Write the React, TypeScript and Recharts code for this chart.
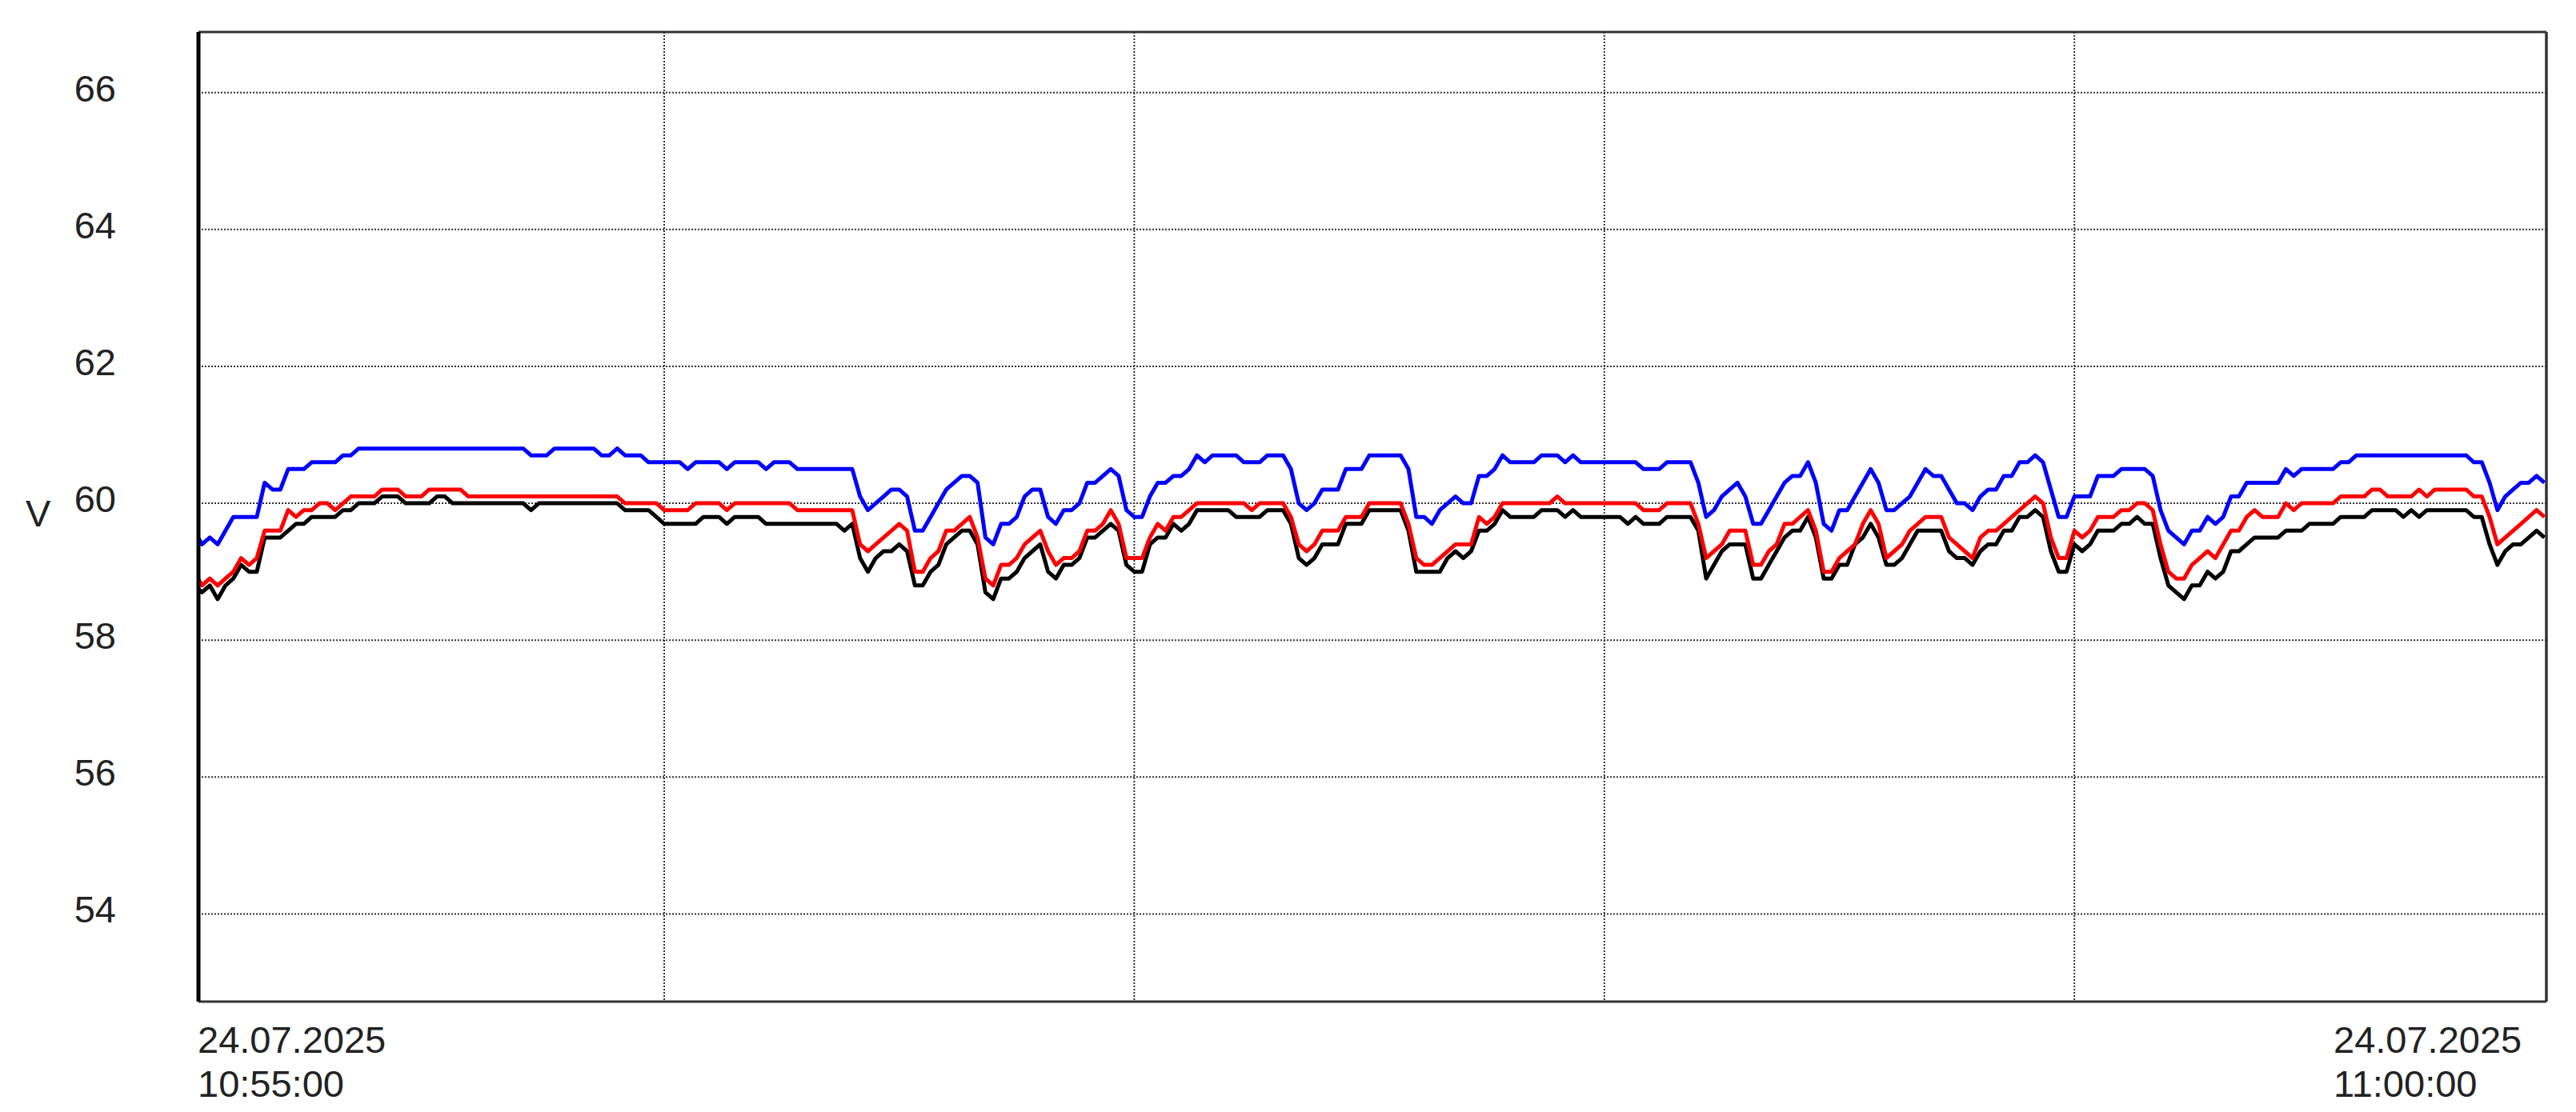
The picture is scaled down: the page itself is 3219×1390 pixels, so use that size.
import React from 'react';
import { LineChart, Line, XAxis, YAxis, CartesianGrid, ReferenceLine } from 'recharts';

// time in seconds after 24.07.2025 10:55:00, voltage in V
const blueSeries: [number, number][] = [
  [0,59.6],[1,59.4],[2,59.5],[3,59.4],[4,59.6],[5,59.8],[8,59.8],[9,60.3],[10,60.2],[11,60.2],[12,60.5],[14,60.5],[15,60.6],[18,60.6],[19,60.7],[20,60.7],[21,60.8],[42,60.8],[43,60.7],[45,60.7],[46,60.8],[51,60.8],[52,60.7],[53,60.7],[54,60.8],[55,60.7],[57,60.7],[58,60.6],[62,60.6],[63,60.5],[64,60.6],[67,60.6],[68,60.5],[69,60.6],[72,60.6],[73,60.5],[74,60.6],[76,60.6],[77,60.5],[84,60.5],[85,60.1],[86,59.9],[87,60.0],[88,60.1],[89,60.2],[90,60.2],[91,60.1],[92,59.6],[93,59.6],[94,59.8],[95,60.0],[96,60.2],[97,60.3],[98,60.4],[99,60.4],[100,60.3],[101,59.5],[102,59.4],[103,59.7],[104,59.7],[105,59.8],[106,60.1],[107,60.2],[108,60.2],[109,59.8],[110,59.7],[111,59.9],[112,59.9],[113,60.0],[114,60.3],[115,60.3],[116,60.4],[117,60.5],[118,60.4],[119,59.9],[120,59.8],[121,59.8],[122,60.1],[123,60.3],[124,60.3],[125,60.4],[126,60.4],[127,60.5],[128,60.7],[129,60.6],[130,60.7],[133,60.7],[134,60.6],[136,60.6],[137,60.7],[139,60.7],[140,60.5],[141,60.0],[142,59.9],[143,60.0],[144,60.2],[146,60.2],[147,60.5],[149,60.5],[150,60.7],[154,60.7],[155,60.5],[156,59.8],[157,59.8],[158,59.7],[159,59.9],[160,60.0],[161,60.1],[162,60.0],[163,60.0],[164,60.4],[165,60.4],[166,60.5],[167,60.7],[168,60.6],[171,60.6],[172,60.7],[174,60.7],[175,60.6],[176,60.7],[177,60.6],[184,60.6],[185,60.5],[187,60.5],[188,60.6],[191,60.6],[192,60.3],[193,59.8],[194,59.9],[195,60.1],[196,60.2],[197,60.3],[198,60.1],[199,59.7],[200,59.7],[201,59.9],[202,60.1],[203,60.3],[204,60.4],[205,60.4],[206,60.6],[207,60.3],[208,59.7],[209,59.6],[210,59.9],[211,59.9],[212,60.1],[213,60.3],[214,60.5],[215,60.3],[216,59.9],[217,59.9],[218,60.0],[219,60.1],[220,60.3],[221,60.5],[222,60.4],[223,60.4],[224,60.2],[225,60.0],[226,60.0],[227,59.9],[228,60.1],[229,60.2],[230,60.2],[231,60.4],[232,60.4],[233,60.6],[234,60.6],[235,60.7],[236,60.6],[237,60.2],[238,59.8],[239,59.8],[240,60.1],[242,60.1],[243,60.4],[245,60.4],[246,60.5],[249,60.5],[250,60.4],[251,59.9],[252,59.6],[253,59.5],[254,59.4],[255,59.6],[256,59.6],[257,59.8],[258,59.7],[259,59.8],[260,60.1],[261,60.1],[262,60.3],[266,60.3],[267,60.5],[268,60.4],[269,60.5],[273,60.5],[274,60.6],[275,60.6],[276,60.7],[290,60.7],[291,60.6],[292,60.6],[293,60.3],[294,59.9],[295,60.1],[296,60.2],[297,60.3],[298,60.3],[299,60.4],[300,60.3],
];

const redSeries: [number, number][] = [
  [0,59.0],[1,58.8],[2,58.9],[3,58.8],[4,58.9],[5,59.0],[6,59.2],[7,59.1],[8,59.2],[9,59.6],[11,59.6],[12,59.9],[13,59.8],[14,59.9],[15,59.9],[16,60.0],[17,60.0],[18,59.9],[19,60.0],[20,60.1],[23,60.1],[24,60.2],[26,60.2],[27,60.1],[29,60.1],[30,60.2],[34,60.2],[35,60.1],[54,60.1],[55,60.0],[59,60.0],[60,59.9],[63,59.9],[64,60.0],[67,60.0],[68,59.9],[69,60.0],[76,60.0],[77,59.9],[84,59.9],[85,59.4],[86,59.3],[87,59.4],[88,59.5],[89,59.6],[90,59.7],[91,59.6],[92,59.0],[93,59.0],[94,59.2],[95,59.3],[96,59.6],[97,59.6],[98,59.7],[99,59.8],[100,59.5],[101,58.9],[102,58.8],[103,59.1],[104,59.1],[105,59.2],[106,59.4],[107,59.5],[108,59.6],[109,59.3],[110,59.1],[111,59.2],[112,59.2],[113,59.3],[114,59.6],[115,59.6],[116,59.7],[117,59.9],[118,59.7],[119,59.2],[121,59.2],[122,59.5],[123,59.7],[124,59.6],[125,59.8],[126,59.8],[127,59.9],[128,60.0],[134,60.0],[135,59.9],[136,60.0],[139,60.0],[140,59.8],[141,59.4],[142,59.3],[143,59.4],[144,59.6],[146,59.6],[147,59.8],[149,59.8],[150,60.0],[154,60.0],[155,59.7],[156,59.2],[157,59.1],[158,59.1],[159,59.2],[160,59.3],[161,59.4],[163,59.4],[164,59.8],[165,59.7],[166,59.8],[167,60.0],[173,60.0],[174,60.1],[175,60.0],[184,60.0],[185,59.9],[187,59.9],[188,60.0],[191,60.0],[192,59.7],[193,59.2],[194,59.3],[195,59.4],[196,59.6],[198,59.6],[199,59.1],[200,59.1],[201,59.3],[202,59.4],[203,59.7],[204,59.7],[205,59.8],[206,59.9],[207,59.6],[208,59.0],[209,59.0],[210,59.2],[211,59.3],[212,59.4],[213,59.7],[214,59.9],[215,59.7],[216,59.2],[217,59.3],[218,59.4],[219,59.6],[220,59.7],[221,59.8],[223,59.8],[224,59.5],[225,59.4],[226,59.3],[227,59.2],[228,59.5],[229,59.6],[230,59.6],[231,59.7],[232,59.8],[233,59.9],[234,60.0],[235,60.1],[236,60.0],[237,59.5],[238,59.2],[239,59.2],[240,59.6],[241,59.5],[242,59.6],[243,59.8],[245,59.8],[246,59.9],[247,59.9],[248,60.0],[249,60.0],[250,59.9],[251,59.4],[252,59.0],[253,58.9],[254,58.9],[255,59.1],[256,59.2],[257,59.3],[258,59.2],[259,59.4],[260,59.6],[261,59.6],[262,59.8],[263,59.9],[264,59.8],[266,59.8],[267,60.0],[268,59.9],[269,60.0],[273,60.0],[274,60.1],[277,60.1],[278,60.2],[279,60.2],[280,60.1],[283,60.1],[284,60.2],[285,60.1],[286,60.2],[290,60.2],[291,60.1],[292,60.1],[293,59.8],[294,59.4],[295,59.5],[296,59.6],[297,59.7],[298,59.8],[299,59.9],[300,59.8],
];

const blackSeries: [number, number][] = [
  [0,58.8],[1,58.7],[2,58.8],[3,58.6],[4,58.8],[5,58.9],[6,59.1],[7,59.0],[8,59.0],[9,59.5],[11,59.5],[12,59.6],[13,59.7],[14,59.7],[15,59.8],[18,59.8],[19,59.9],[20,59.9],[21,60.0],[23,60.0],[24,60.1],[26,60.1],[27,60.0],[30,60.0],[31,60.1],[32,60.1],[33,60.0],[42,60.0],[43,59.9],[44,60.0],[54,60.0],[55,59.9],[58,59.9],[59,59.8],[60,59.7],[64,59.7],[65,59.8],[67,59.8],[68,59.7],[69,59.8],[72,59.8],[73,59.7],[82,59.7],[83,59.6],[84,59.7],[85,59.2],[86,59.0],[87,59.2],[88,59.3],[89,59.3],[90,59.4],[91,59.3],[92,58.8],[93,58.8],[94,59.0],[95,59.1],[96,59.4],[97,59.5],[98,59.6],[99,59.6],[100,59.4],[101,58.7],[102,58.6],[103,58.9],[104,58.9],[105,59.0],[106,59.2],[107,59.3],[108,59.4],[109,59.0],[110,58.9],[111,59.1],[112,59.1],[113,59.2],[114,59.5],[115,59.5],[116,59.6],[117,59.7],[118,59.6],[119,59.1],[120,59.0],[121,59.0],[122,59.4],[123,59.5],[124,59.5],[125,59.7],[126,59.6],[127,59.7],[128,59.9],[132,59.9],[133,59.8],[136,59.8],[137,59.9],[139,59.9],[140,59.7],[141,59.2],[142,59.1],[143,59.2],[144,59.4],[146,59.4],[147,59.7],[149,59.7],[150,59.9],[154,59.9],[155,59.6],[156,59.0],[159,59.0],[160,59.2],[161,59.3],[162,59.2],[163,59.3],[164,59.6],[165,59.6],[166,59.7],[167,59.9],[168,59.8],[171,59.8],[172,59.9],[174,59.9],[175,59.8],[176,59.9],[177,59.8],[182,59.8],[183,59.7],[184,59.8],[185,59.7],[187,59.7],[188,59.8],[191,59.8],[192,59.6],[193,58.9],[194,59.1],[195,59.3],[196,59.4],[198,59.4],[199,58.9],[200,58.9],[201,59.1],[202,59.3],[203,59.5],[204,59.6],[205,59.6],[206,59.8],[207,59.5],[208,58.9],[209,58.9],[210,59.1],[211,59.1],[212,59.4],[213,59.5],[214,59.7],[215,59.5],[216,59.1],[217,59.1],[218,59.2],[219,59.4],[220,59.6],[223,59.6],[224,59.3],[225,59.2],[226,59.2],[227,59.1],[228,59.3],[229,59.4],[230,59.4],[231,59.6],[232,59.6],[233,59.8],[234,59.8],[235,59.9],[236,59.8],[237,59.3],[238,59.0],[239,59.0],[240,59.4],[241,59.3],[242,59.4],[243,59.6],[245,59.6],[246,59.7],[247,59.7],[248,59.8],[249,59.7],[250,59.7],[251,59.2],[252,58.8],[253,58.7],[254,58.6],[255,58.8],[256,58.8],[257,59.0],[258,58.9],[259,59.0],[260,59.3],[261,59.3],[262,59.4],[263,59.5],[266,59.5],[267,59.6],[269,59.6],[270,59.7],[273,59.7],[274,59.8],[277,59.8],[278,59.9],[281,59.9],[282,59.8],[283,59.9],[284,59.8],[285,59.9],[290,59.9],[291,59.8],[292,59.8],[293,59.4],[294,59.1],[295,59.3],[296,59.4],[297,59.4],[298,59.5],[299,59.6],[300,59.5],
];

const X_MIN = 0.55;
const X_MAX = 300.25;
const Y_MIN = 52.72;
const Y_MAX = 66.885;
const yTicks = [54, 56, 58, 60, 62, 64, 66];
const xGridTicks = [X_MIN, 60, 120, 180, 240, X_MAX];
const xLabelTicks = [X_MIN, X_MAX];
const xLabelDates = ['24.07.2025', '24.07.2025'];
const xLabelTimes = ['10:55:00', '11:00:00'];
const yUnit = 'V';

const FONT = '"Liberation Sans", Arial, sans-serif';
const TEXT = '#222';
const FS = 47;

const toRows = (s: [number, number][]) => s.map(([t, v]) => ({ t, v }));

const YTick = (props: any) => {
  const { x, y, payload } = props;
  return (
    <text x={x - 103} y={y + 11} textAnchor="end" fontSize={FS} fontFamily={FONT} fill={TEXT}>
      {payload.value}
    </text>
  );
};

const XTick = (props: any) => {
  const { x, y, payload } = props;
  const k = xLabelTicks.indexOf(payload.value);
  if (k < 0) return <g />;
  const dx = k === 0 ? -1 : -266;
  return (
    <g>
      <text x={x + dx} y={y + 64} textAnchor="start" fontSize={FS} fontFamily={FONT} fill={TEXT}>
        {xLabelDates[k]}
      </text>
      <text x={x + dx} y={y + 119} textAnchor="start" fontSize={FS} fontFamily={FONT} fill={TEXT}>
        {xLabelTimes[k]}
      </text>
    </g>
  );
};

const UnitLabel = (props: any) => {
  const vb = props.viewBox || { x: 48, y: 40 };
  return (
    <text x={vb.x - 16} y={vb.y + 618} textAnchor="start" fontSize={FS} fontFamily={FONT} fill={TEXT}>
      {yUnit}
    </text>
  );
};

export default function App() {
  return (
    <div style={{ position: 'absolute', left: 0, top: 0, width: 3219, height: 1390, background: '#fff' }}>
      <LineChart width={3219} height={1390} margin={{ top: 40, right: 37, bottom: 18, left: 48 }}>
        <CartesianGrid stroke="#333" strokeWidth={2} strokeDasharray="2 2" />
        <XAxis
          type="number"
          dataKey="t"
          domain={[X_MIN, X_MAX]}
          allowDataOverflow
          ticks={xGridTicks}
          interval={0}
          height={120}
          tickLine={false}
          tickSize={0}
          tickMargin={0}
          axisLine={{ stroke: '#333', strokeWidth: 3 }}
          tick={<XTick />}
        />
        <YAxis
          type="number"
          domain={[Y_MIN, Y_MAX]}
          allowDataOverflow
          ticks={yTicks}
          interval={0}
          width={200}
          tickLine={false}
          tickSize={0}
          tickMargin={0}
          axisLine={{ stroke: '#000', strokeWidth: 5 }}
          tick={<YTick />}
          label={<UnitLabel />}
        />
        <ReferenceLine y={Y_MAX} stroke="#333" strokeWidth={3} />
        <ReferenceLine x={X_MAX} stroke="#333" strokeWidth={3.5} />
        <Line data={toRows(blackSeries)} dataKey="v" type="linear" stroke="#000000" strokeWidth={5} strokeLinejoin="round" dot={false} isAnimationActive={false} />
        <Line data={toRows(redSeries)} dataKey="v" type="linear" stroke="#ff0000" strokeWidth={5} strokeLinejoin="round" dot={false} isAnimationActive={false} />
        <Line data={toRows(blueSeries)} dataKey="v" type="linear" stroke="#0000ff" strokeWidth={5} strokeLinejoin="round" dot={false} isAnimationActive={false} />
      </LineChart>
    </div>
  );
}
